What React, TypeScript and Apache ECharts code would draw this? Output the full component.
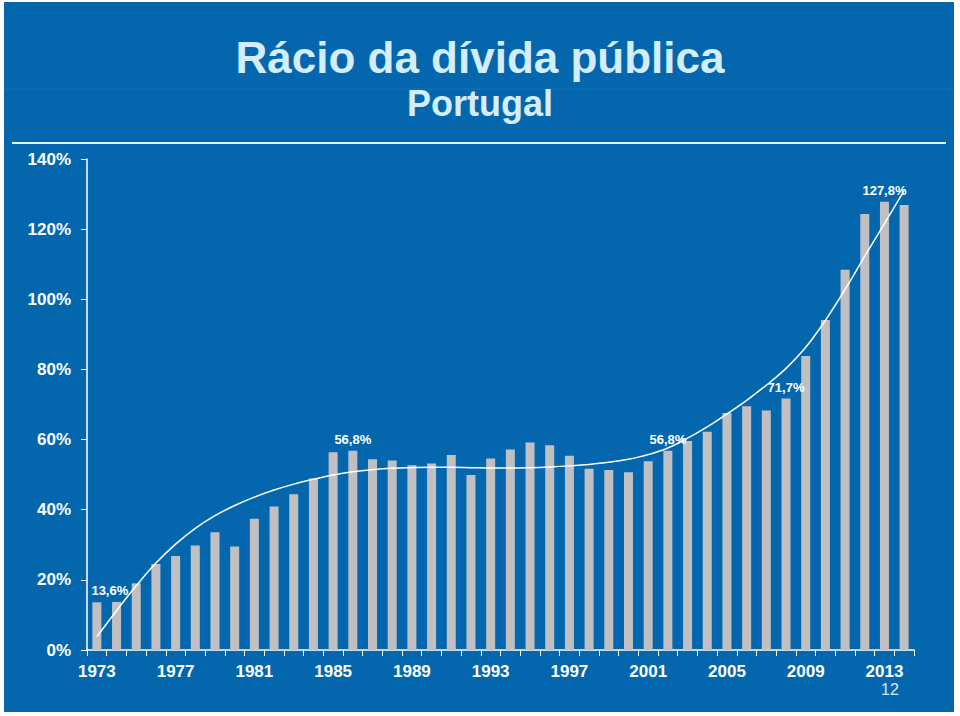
import React, { useEffect, useRef } from "react";
import * as echarts from "echarts";

const years: string[] = [];
for (let y = 1973; y <= 2014; y++) years.push(String(y));

const debtRatio = [
  13.6, 13.7, 19.0, 24.5, 26.8, 29.8, 33.6, 29.5, 37.4, 40.9,
  44.4, 48.9, 56.4, 56.8, 54.4, 54.0, 52.7, 53.2, 55.6, 49.9,
  54.6, 57.2, 59.2, 58.4, 55.4, 51.7, 51.3, 50.7, 53.8, 56.8,
  59.6, 62.2, 67.6, 69.5, 68.3, 71.7, 83.8, 94.1, 108.4, 124.3,
  127.8, 126.9,
];

const trendValues = [
  3.8, 11.2, 18.3, 24.8, 30.2, 34.7, 38.3, 41.2, 43.6, 45.6,
  47.3, 48.7, 49.9, 50.8, 51.4, 51.8, 52.0, 52.1, 52.1, 52.0,
  51.9, 51.9, 52.0, 52.2, 52.5, 52.9, 53.5, 54.4, 55.7, 57.6,
  60.4, 63.6, 67.3, 71.2, 75.5, 80.3, 86.3, 94.0, 102.8, 112.3,
  121.6, 131.0,
];

const labelledYears = ["1973", "1986", "2002", "2008", "2013"];
const shownYearLabels = ["1973", "1977", "1981", "1985", "1989", "1993", "1997", "2001", "2005", "2009", "2013"];

const titleText = "Rácio da dívida pública";
const subtitleText = "Portugal";
const pageNumber = "12";

const FONT = "'Liberation Sans', Arial, Helvetica, sans-serif";
const BLUE = "#0467AE";
const LIGHT = "#d3edfa";

export default function App() {
  const ref = useRef<HTMLDivElement>(null);

  useEffect(() => {
    if (!ref.current) return;
    const chart = echarts.init(ref.current, undefined, { renderer: "svg" });

    const barData = debtRatio.map((v, i) => {
      const yr = years[i];
      const item: any = { value: v };
      if (labelledYears.includes(yr)) {
        item.label = {
          show: true,
          position: "top",
          distance: 5,
          offset: yr === "1973" ? [13, 0] : [0, 0],
          formatter: () => v.toFixed(1).replace(".", ",") + "%",
          color: "#ffffff",
          fontFamily: FONT,
          fontWeight: "bold",
          fontSize: 13,
        };
      }
      return item;
    });

    chart.setOption({
      animation: false,
      backgroundColor: "#ffffff",
      graphic: [
        {
          type: "rect",
          z: -10,
          silent: true,
          shape: { x: 4, y: 2, width: 950, height: 710 },
          style: { fill: BLUE },
        },
        {
          type: "line",
          z: -9,
          silent: true,
          shape: { x1: 4, y1: 89, x2: 954, y2: 89 },
          style: { stroke: "rgba(255,255,255,0.07)", lineWidth: 1 },
        },
        {
          type: "line",
          silent: true,
          shape: { x1: 12, y1: 143, x2: 946, y2: 143 },
          style: { stroke: "#e6f4fb", lineWidth: 2 },
        },
        {
          type: "text",
          x: 480,
          y: 57,
          style: {
            text: titleText,
            fill: LIGHT,
            font: `bold 44px ${FONT}`,
            align: "center",
            verticalAlign: "middle",
          },
        },
        {
          type: "text",
          x: 480,
          y: 103,
          style: {
            text: subtitleText,
            fill: LIGHT,
            font: `bold 36px ${FONT}`,
            align: "center",
            verticalAlign: "middle",
          },
        },
        {
          type: "text",
          x: 890,
          y: 689,
          style: {
            text: pageNumber,
            fill: LIGHT,
            font: `16px ${FONT}`,
            align: "center",
            verticalAlign: "middle",
          },
        },
      ],
      grid: { left: 87, right: 46, top: 159, bottom: 66, containLabel: false },
      xAxis: {
        type: "category",
        data: years,
        boundaryGap: true,
        axisLine: { show: true, lineStyle: { color: "#ffffff", width: 1.5 } },
        axisTick: { show: true, alignWithLabel: false, interval: 0, length: 6, lineStyle: { color: "#ffffff", width: 1 } },
        axisLabel: {
          interval: 0,
          color: "#ffffff",
          fontFamily: FONT,
          fontWeight: "bold",
          fontSize: 17,
          margin: 13,
          formatter: (v: string) => (shownYearLabels.includes(v) ? v : ""),
        },
        splitLine: { show: false },
      },
      yAxis: {
        type: "value",
        min: 0,
        max: 140,
        interval: 20,
        axisLine: { show: true, lineStyle: { color: "#ffffff", width: 1.5 } },
        axisTick: { show: true, length: 6, lineStyle: { color: "#ffffff", width: 1 } },
        axisLabel: {
          color: "#ffffff",
          fontFamily: FONT,
          fontWeight: "bold",
          fontSize: 17,
          margin: 16,
          formatter: (v: number) => `${v}%`,
        },
        splitLine: { show: false },
      },
      series: [
        {
          type: "bar",
          data: barData,
          barWidth: 9,
          itemStyle: { color: "#c0c0c2" },
        },
        {
          type: "line",
          data: trendValues,
          smooth: 0.4,
          symbol: "none",
          lineStyle: { color: "#ffffff", width: 1.5 },
          z: 3,
        },
      ],
    });

    return () => chart.dispose();
  }, []);

  return (
    <div
      ref={ref}
      style={{ position: "fixed", left: 0, top: 0, width: 960, height: 716 }}
    />
  );
}
